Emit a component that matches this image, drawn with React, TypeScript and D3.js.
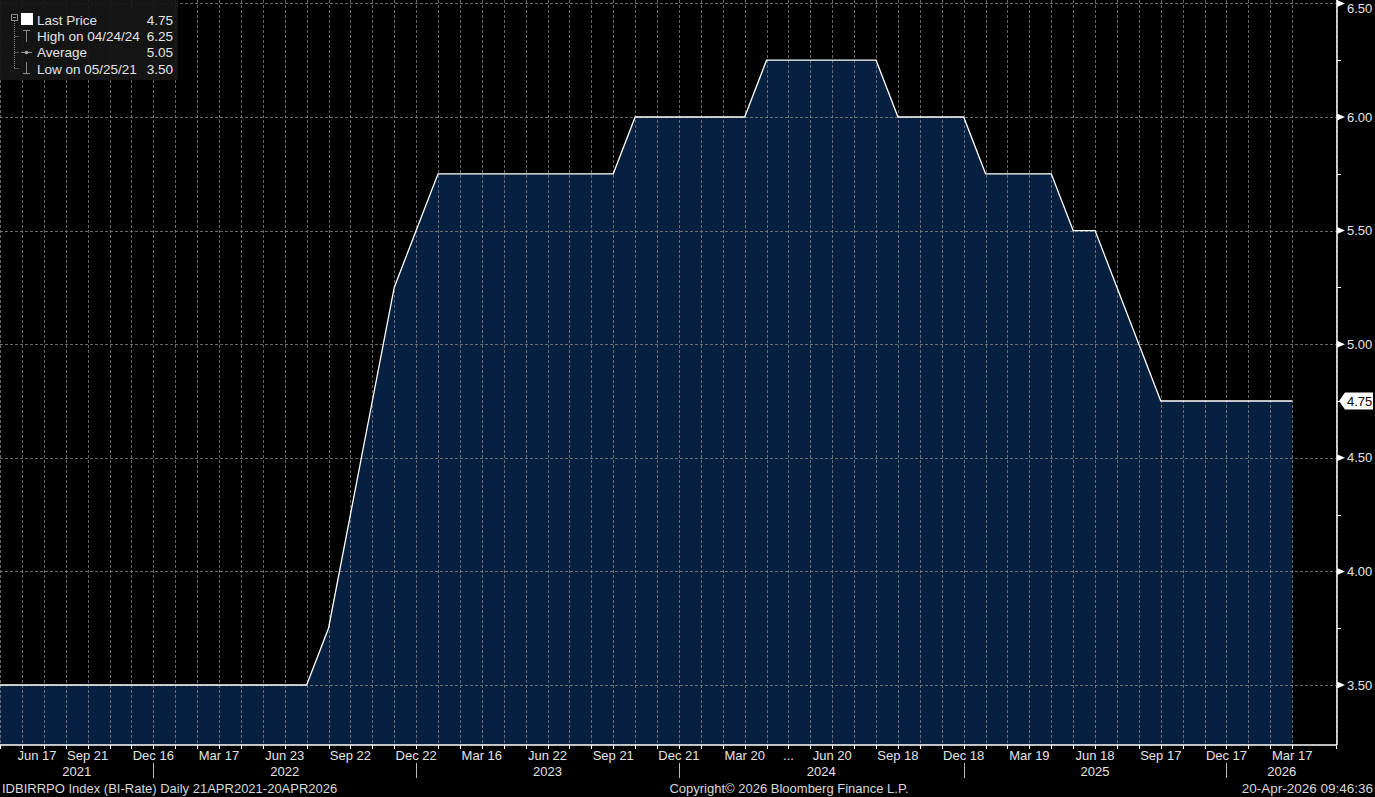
import React from 'react';
import * as d3 from 'd3';

const W = 1375;
const H = 797;

// BI-Rate observations (one per policy meeting)
const dates = [
  "2021-05-25", "2021-06-17", "2021-07-22", "2021-08-19", "2021-09-21", "2021-10-19", "2021-11-18", "2021-12-16",
  "2022-01-20", "2022-02-10", "2022-03-17", "2022-04-19", "2022-05-24", "2022-06-23", "2022-07-21", "2022-08-23",
  "2022-09-22", "2022-10-20", "2022-11-17", "2022-12-22",
  "2023-01-19", "2023-02-16", "2023-03-16", "2023-04-18", "2023-05-25", "2023-06-22", "2023-07-25", "2023-08-24",
  "2023-09-21", "2023-10-19", "2023-11-23", "2023-12-21",
  "2024-01-17", "2024-02-21", "2024-03-20", "2024-04-24", "2024-05-08", "2024-05-22", "2024-06-20", "2024-07-17",
  "2024-08-21", "2024-09-18", "2024-10-16", "2024-11-20", "2024-12-18",
  "2025-01-15", "2025-02-19", "2025-03-19", "2025-04-23", "2025-05-21", "2025-06-18", "2025-07-16", "2025-08-20",
  "2025-09-17", "2025-10-22", "2025-11-19", "2025-12-17",
  "2026-01-21", "2026-02-19", "2026-03-17",
];
const rates = [
  3.50, 3.50, 3.50, 3.50, 3.50, 3.50, 3.50, 3.50,
  3.50, 3.50, 3.50, 3.50, 3.50, 3.50, 3.50, 3.75,
  4.25, 4.75, 5.25, 5.50,
  5.75, 5.75, 5.75, 5.75, 5.75, 5.75, 5.75, 5.75,
  5.75, 6.00, 6.00, 6.00,
  6.00, 6.00, 6.00, 6.25, 6.25, 6.25, 6.25, 6.25,
  6.25, 6.00, 6.00, 6.00, 6.00,
  5.75, 5.75, 5.75, 5.75, 5.50, 5.50, 5.25, 5.00,
  4.75, 4.75, 4.75, 4.75,
  4.75, 4.75, 4.75,
];

const tickDates = [
  "2021-06-17", "2021-09-21", "2021-12-16", "2022-03-17", "2022-06-23", "2022-09-22", "2022-12-22",
  "2023-03-16", "2023-06-22", "2023-09-21", "2023-12-21", "2024-03-20", "2024-05-08", "2024-06-20",
  "2024-09-18", "2024-12-18", "2025-03-19", "2025-06-18", "2025-09-17", "2025-12-17", "2026-03-17",
];
const tickLabels = [
  "Jun 17", "Sep 21", "Dec 16", "Mar 17", "Jun 23", "Sep 22", "Dec 22",
  "Mar 16", "Jun 22", "Sep 21", "Dec 21", "Mar 20", "...", "Jun 20",
  "Sep 18", "Dec 18", "Mar 19", "Jun 18", "Sep 17", "Dec 17", "Mar 17",
];

const yTicks = [3.5, 4.0, 4.5, 5.0, 5.5, 6.0, 6.5];
const yMinorTicks = [3.75, 4.25, 4.75, 5.25, 5.75, 6.25];

const legendLabels = ["Last Price", "High on 04/24/24", "Average", "Low on 05/25/21"];
const legendValues = ["4.75", "6.25", "5.05", "3.50"];
const lastPrice = 4.75;

const FONT = "'Liberation Sans', Arial, sans-serif";

export default function App() {
  const axisY = 745;
  const axisRight = 1337;
  const n = dates.length;
  const x = d3.scaleLinear().domain([0, n + 1]).range([0, 1336]);
  const y = d3.scaleLinear().domain([3.5, 6.0]).range([685, 117]);

  const pts = dates.map((d, i) => ({ i, v: rates[i] }));
  const area = d3.area<{ i: number; v: number }>().x(d => x(d.i)).y0(axisY).y1(d => y(d.v));
  const line = d3.line<{ i: number; v: number }>().x(d => x(d.i)).y(d => y(d.v));

  const gridIdx = d3.range(0, n).concat([n + 1]);

  const years = Array.from(new Set(dates.map(d => d.slice(0, 4))));
  const lastIdxOfYear = years.map(yr => {
    let last = 0;
    dates.forEach((d, i) => { if (d.startsWith(yr)) last = i; });
    return last;
  });

  const gridColor = "#8a8a8a";
  const textColor = "#e4e4e4";

  return (
    <svg width={W} height={H} style={{ position: 'fixed', left: 0, top: 0, background: '#000' }} fontFamily={FONT}>
      <rect x={0} y={0} width={W} height={H} fill="#000" />
      <path d={area(pts) || ''} fill="#08203f" />
      <g stroke={gridColor} strokeOpacity={0.75} strokeDasharray="3,2" strokeWidth={1}>
        {gridIdx.map(i => (
          <line key={'gx' + i} x1={Math.round(x(i)) + 0.5} x2={Math.round(x(i)) + 0.5} y1={0} y2={axisY} />
        ))}
        {yTicks.map(t => (
          <line key={'gy' + t} x1={0} x2={axisRight} y1={Math.round(y(t)) + 0.5} y2={Math.round(y(t)) + 0.5} />
        ))}
      </g>
      <path d={line(pts) || ''} fill="none" stroke="#fff" strokeWidth={1.3} />

      {/* bottom axis */}
      <line x1={0} x2={axisRight} y1={axisY} y2={axisY} stroke="#fff" strokeWidth={1.5} />
      {gridIdx.map(i => (
        <line key={'tx' + i} x1={Math.round(x(i)) + 0.5} x2={Math.round(x(i)) + 0.5} y1={axisY} y2={axisY + 4} stroke="#fff" strokeWidth={1} />
      ))}
      {tickDates.map((d, k) => {
        const idx = dates.indexOf(d);
        const cx = Math.max(x(idx), 37);
        return (
          <text key={'xl' + k} x={cx} y={760} fill={textColor} fontSize={13} textAnchor="middle">{tickLabels[k]}</text>
        );
      })}
      {years.map((yr, k) => {
        const sep = k < years.length - 1 ? x(lastIdxOfYear[k]) : axisRight;
        const prev = k === 0 ? 0 : x(lastIdxOfYear[k - 1]);
        return (
          <g key={'yr' + yr}>
            {k < years.length - 1 && (
              <line x1={Math.round(sep) + 0.5} x2={Math.round(sep) + 0.5} y1={763} y2={778} stroke="#bbb" strokeWidth={1} />
            )}
            <text x={(prev + sep) / 2} y={776} fill={textColor} fontSize={13} textAnchor="middle">{yr}</text>
          </g>
        );
      })}

      {/* right axis */}
      <line x1={axisRight} x2={axisRight} y1={0} y2={axisY} stroke="#fff" strokeWidth={1.5} />
      {yMinorTicks.map(t => (
        <line key={'ym' + t} x1={axisRight} x2={axisRight + 4} y1={Math.round(y(t)) + 0.5} y2={Math.round(y(t)) + 0.5} stroke="#fff" strokeWidth={1} />
      ))}
      {yTicks.map(t => {
        const yy = y(t);
        return (
          <g key={'yt' + t}>
            <polygon points={`${axisRight},${Math.max(yy - 3.5, 0)} ${axisRight + 8},${Math.max(yy, 3.5)} ${axisRight},${Math.max(yy + 3.5, 7)}`} fill="#fff" />
            <text x={1347} y={Math.max(yy + 4.5, 13)} fill={textColor} fontSize={13}>{t.toFixed(2)}</text>
          </g>
        );
      })}
      {(() => {
        const yy = y(lastPrice);
        return (
          <g>
            <polygon points={`${axisRight + 2},${yy} ${axisRight + 8},${yy - 8.5} ${1373},${yy - 8.5} ${1373},${yy + 8.5} ${axisRight + 8},${yy + 8.5}`} fill="#fff" />
            <text x={1347} y={yy + 4.5} fill="#000" fontSize={13}>{lastPrice.toFixed(2)}</text>
          </g>
        );
      })()}

      {/* legend */}
      <rect x={0} y={0} width={178} height={80} fill="#161616" fillOpacity={0.92} />
      <g stroke="#8a8a8a" strokeWidth={1} fill="none">
        <rect x={11.5} y={14.5} width={6} height={6} />
        <line x1={13} x2={16} y1={17.5} y2={17.5} />
        <line x1={14.5} x2={14.5} y1={21} y2={68.5} strokeDasharray="1,1" />
        {[36.5, 52.5, 68.5].map(yy => (
          <line key={'st' + yy} x1={14.5} x2={19} y1={yy} y2={yy} strokeDasharray="1,1" />
        ))}
        <line x1={23} x2={30} y1={30.5} y2={30.5} />
        <line x1={26.5} x2={26.5} y1={30.5} y2={42} />
        <line x1={21} x2={32} y1={52.5} y2={52.5} />
        <line x1={26.5} x2={26.5} y1={62} y2={73.5} />
        <line x1={23} x2={30} y1={73.5} y2={73.5} />
      </g>
      <circle cx={26.5} cy={52.5} r={1.8} fill="#aaa" />
      <rect x={21} y={13} width={12} height={12} fill="#fff" />
      {legendLabels.map((l, k) => (
        <g key={'lg' + k}>
          <text x={37} y={25 + k * 16.2} fill={textColor} fontSize={13.5}>{l}</text>
          <text x={173} y={25 + k * 16.2} fill={textColor} fontSize={13.5} textAnchor="end">{legendValues[k]}</text>
        </g>
      ))}

      {/* footer */}
      <text x={2} y={793} fill="#d8d8d8" fontSize={13}>IDBIRRPO Index (BI-Rate) Daily 21APR2021-20APR2026</text>
      <text x={789} y={793} fill="#d8d8d8" fontSize={13} textAnchor="middle">Copyright© 2026 Bloomberg Finance L.P.</text>
      <text x={1373} y={793} fill="#d8d8d8" fontSize={13.5} textAnchor="end">20-Apr-2026 09:46:36</text>
    </svg>
  );
}
